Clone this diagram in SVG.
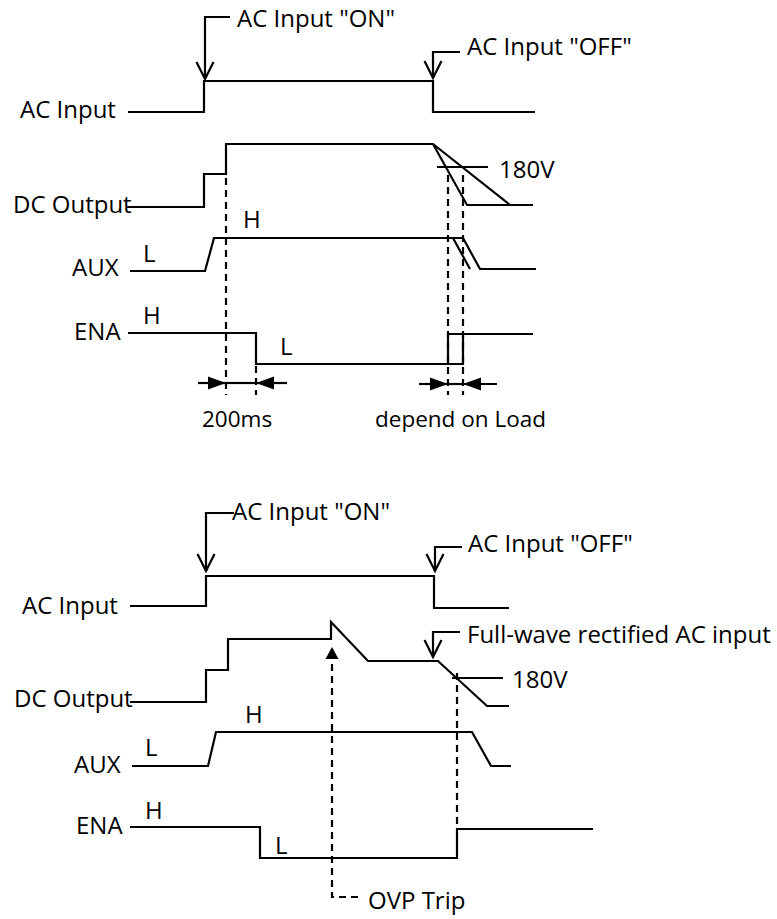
<svg xmlns="http://www.w3.org/2000/svg" width="777" height="919" viewBox="0 0 777 919">
<style>
text{font-family:"Open Sans","Liberation Sans",sans-serif;font-size:24px;fill:#000}
.s{font-size:22.5px}
.w{fill:none;stroke:#000;stroke-width:2.2;stroke-linejoin:miter;stroke-linecap:butt}
.d{fill:none;stroke:#000;stroke-width:2.2;stroke-dasharray:7 5}
</style>
<defs>
<marker id="vopen" viewBox="-20 -11 24 22" refX="0" refY="0" markerWidth="24" markerHeight="22" markerUnits="userSpaceOnUse" orient="auto">
<path d="M-17,-8.5 L0,0 L-17,8.5" fill="none" stroke="#000" stroke-width="2.2"/>
</marker>
<marker id="tri" viewBox="-19 -8 20 16" refX="0" refY="0" markerWidth="20" markerHeight="16" markerUnits="userSpaceOnUse" orient="auto">
<path d="M-18,-6.5 L0,0 L-18,6.5Z" fill="#000"/>
</marker>
<marker id="tri2" viewBox="-14 -8 15 16" refX="0" refY="0" markerWidth="15" markerHeight="16" markerUnits="userSpaceOnUse" orient="auto">
<path d="M-12,-6.5 L0,0 L-12,6.5Z" fill="#000"/>
</marker>
</defs>

<!-- ================= TOP DIAGRAM ================= -->
<g id="top-ac-input">
<text x="20" y="118">AC Input</text>
<path class="w" d="M128,112 H204 V81 H433 V112 H535"/>
</g>
<g id="top-on-label">
<path class="w" d="M230,17 H205 V79" marker-end="url(#vopen)"/>
<text x="237" y="27">AC Input "ON"</text>
</g>
<g id="top-off-label">
<path class="w" d="M460,52 H433 V78" marker-end="url(#vopen)"/>
<text x="467" y="55">AC Input "OFF"</text>
</g>
<g id="top-dc-output">
<text x="13" y="213">DC Output</text>
<path class="w" d="M127,207 H204 V174 H226 V144 H433 L467,205 H533 M433,144 L510,205"/>
<path class="w" d="M437,167 H488"/>
<text x="499" y="178">180V</text>
</g>
<g id="top-aux">
<text x="72" y="276">AUX</text>
<path class="w" d="M130,271 H205 L214,238 H463 L480,269 H536 M453,238 L470,269"/>
<text x="243" y="228">H</text>
<text x="143" y="262">L</text>
</g>
<g id="top-ena">
<text x="74" y="340">ENA</text>
<path class="w" d="M128,333 H256 V364 H463 V334 M448,364 V334 H533"/>
<text x="143" y="324">H</text>
<text x="280" y="355">L</text>
</g>
<g id="top-timing">
<text class="s" x="202" y="427">200ms</text>
<text class="s" x="375" y="427">depend on Load</text>
</g>

<!-- ================= BOTTOM DIAGRAM ================= -->
<g id="bot-ac-input">
<text x="22" y="614">AC Input</text>
<path class="w" d="M130,606 H206 V576 H434 V608 H509"/>
</g>
<g id="bot-on-label">
<path class="w" d="M234,513 H206 V571" marker-end="url(#vopen)"/>
<text x="232" y="520">AC Input "ON"</text>
</g>
<g id="bot-off-label">
<path class="w" d="M462,547 H435 V571" marker-end="url(#vopen)"/>
<text x="468" y="552">AC Input "OFF"</text>
</g>
<g id="bot-fullwave-label">
<path class="w" d="M460,632 H433 V657" marker-end="url(#vopen)"/>
<text x="467" y="643">Full-wave rectified AC input</text>
</g>
<g id="bot-dc-output">
<text x="14" y="707">DC Output</text>
<path class="w" d="M130,702 H206 V670 H228 V639 H331 V622 L368,661 H438 L487,706 H509"/>
<path class="w" d="M452,678 H503"/>
<text x="512" y="688">180V</text>
</g>
<g id="bot-aux">
<text x="74" y="773">AUX</text>
<path class="w" d="M132,766 H208 L216,732 H472 L491,766 H511"/>
<text x="245" y="723">H</text>
<text x="145" y="756">L</text>
</g>
<g id="bot-ena">
<text x="76" y="834">ENA</text>
<path class="w" d="M130,827 H260 V858 H457 V829 H593"/>
<text x="145" y="819">H</text>
<text x="275" y="854">L</text>
</g>
<g id="bot-ovp-label">
<text x="368" y="909">OVP Trip</text>
</g>

<!-- ================= CONNECTORS ================= -->
<g id="connectors">
<path class="d" d="M226,178 V395"/>
<path class="d" d="M256,366 V395"/>
<path class="d" d="M448,175 V395"/>
<path class="d" d="M463,175 V395"/>
<path class="w" d="M226,383 H256"/>
<path class="w" d="M198,383 H226" marker-end="url(#tri)"/>
<path class="w" d="M287,383 H256" marker-end="url(#tri)"/>
<path class="w" d="M448,384 H463"/>
<path class="w" d="M419,384 H448" marker-end="url(#tri)"/>
<path class="w" d="M497,384 H463" marker-end="url(#tri)"/>
<path class="d" d="M358,897 H332 V647" marker-end="url(#tri2)"/>
<path class="d" d="M457,673 V828"/>
</g>
</svg>
